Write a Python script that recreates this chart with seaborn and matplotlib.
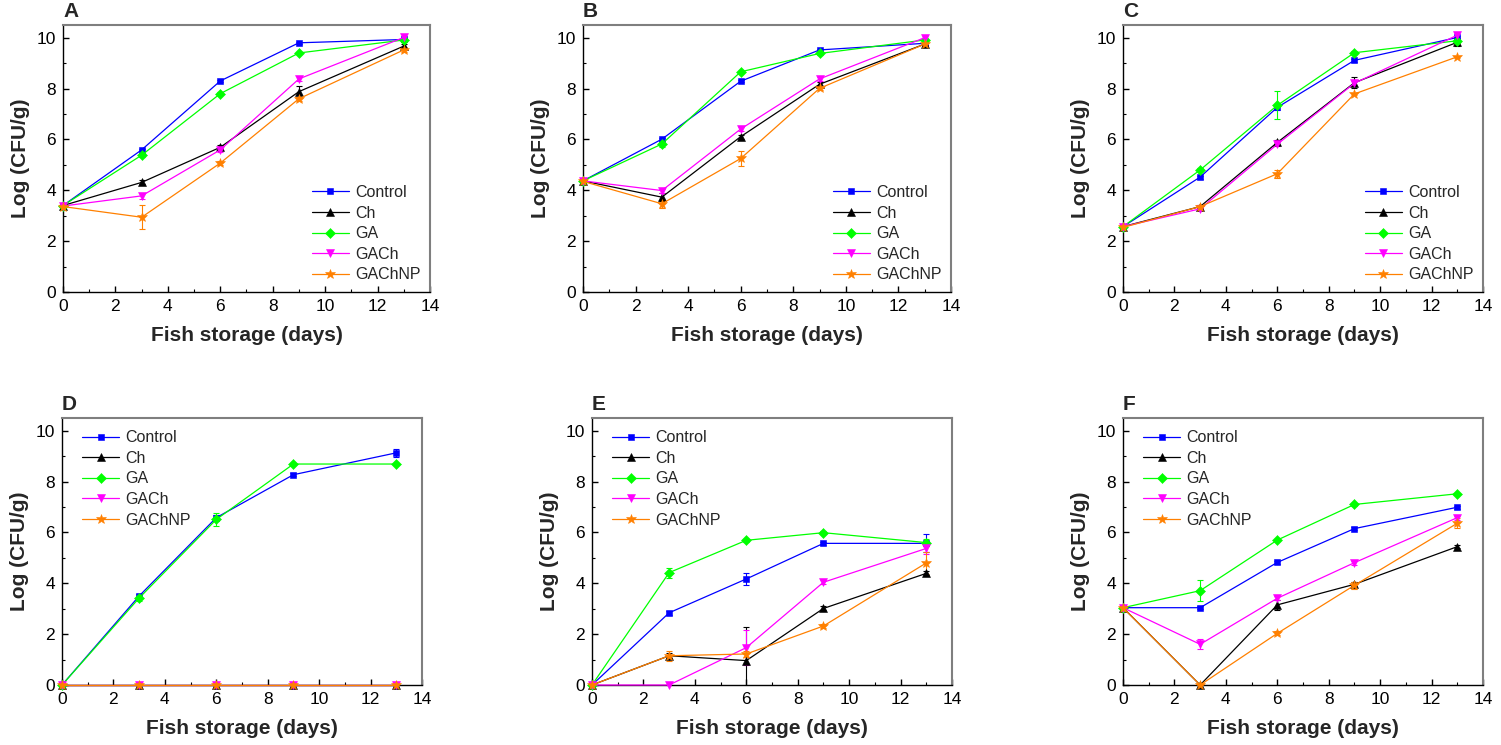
import numpy as np
import pandas as pd
import matplotlib
matplotlib.use("Agg")
import matplotlib.pyplot as plt
import seaborn as sns
from matplotlib.ticker import MultipleLocator

# ---------------- data ----------------
days = [0, 3, 6, 9, 13]
groups = ["Control", "Ch", "GA", "GACh", "GAChNP"]
panel_names = ["A", "B", "C", "D", "E", "F"]

A_mean = {"Control": [3.40, 5.59, 8.30, 9.80, 9.93],
          "Ch":      [3.40, 4.31, 5.69, 7.88, 9.67],
          "GA":      [3.40, 5.38, 7.80, 9.40, 9.91],
          "GACh":    [3.38, 3.78, 5.59, 8.38, 10.01],
          "GAChNP":  [3.36, 2.94, 5.07, 7.60, 9.52]}
A_err = {"Control": [0.05, 0.05, 0.05, 0.05, 0.05],
         "Ch":      [0.05, 0.08, 0.10, 0.22, 0.10],
         "GA":      [0.05, 0.08, 0.05, 0.05, 0.08],
         "GACh":    [0.05, 0.12, 0.08, 0.10, 0.05],
         "GAChNP":  [0.05, 0.47, 0.08, 0.08, 0.10]}

B_mean = {"Control": [4.37, 6.01, 8.29, 9.52, 9.78],
          "Ch":      [4.37, 3.73, 6.11, 8.17, 9.75],
          "GA":      [4.37, 5.82, 8.66, 9.38, 9.91],
          "GACh":    [4.37, 3.99, 6.41, 8.38, 10.00],
          "GAChNP":  [4.35, 3.47, 5.25, 8.01, 9.75]}
B_err = {"Control": [0.05, 0.06, 0.05, 0.05, 0.05],
         "Ch":      [0.05, 0.15, 0.08, 0.08, 0.05],
         "GA":      [0.05, 0.10, 0.05, 0.05, 0.05],
         "GACh":    [0.05, 0.08, 0.08, 0.08, 0.05],
         "GAChNP":  [0.05, 0.15, 0.30, 0.08, 0.05]}

C_mean = {"Control": [2.57, 4.52, 7.26, 9.11, 10.01],
          "Ch":      [2.57, 3.36, 5.88, 8.23, 9.82],
          "GA":      [2.57, 4.80, 7.34, 9.41, 9.88],
          "GACh":    [2.57, 3.27, 5.81, 8.21, 10.10],
          "GAChNP":  [2.54, 3.36, 4.65, 7.79, 9.25]}
C_err = {"Control": [0.05, 0.06, 0.10, 0.05, 0.05],
         "Ch":      [0.05, 0.05, 0.10, 0.22, 0.15],
         "GA":      [0.05, 0.06, 0.55, 0.05, 0.08],
         "GACh":    [0.05, 0.06, 0.08, 0.10, 0.08],
         "GAChNP":  [0.05, 0.05, 0.15, 0.05, 0.05]}

D_mean = {"Control": [0.00, 3.50, 6.58, 8.27, 9.13],
          "Ch":      [0.00, 0.00, 0.00, 0.00, 0.00],
          "GA":      [0.00, 3.42, 6.51, 8.69, 8.69],
          "GACh":    [0.00, 0.00, 0.00, 0.00, 0.00],
          "GAChNP":  [0.00, 0.00, 0.00, 0.00, 0.00]}
D_err = {"Control": [0.0, 0.08, 0.10, 0.05, 0.15],
         "Ch":      [0.0, 0.0, 0.0, 0.0, 0.0],
         "GA":      [0.0, 0.12, 0.25, 0.05, 0.05],
         "GACh":    [0.0, 0.0, 0.0, 0.0, 0.0],
         "GAChNP":  [0.0, 0.0, 0.0, 0.0, 0.0]}

E_mean = {"Control": [0.00, 2.84, 4.17, 5.57, 5.57],
          "Ch":      [0.00, 1.15, 0.96, 3.01, 4.39],
          "GA":      [0.00, 4.42, 5.69, 5.99, 5.60],
          "GACh":    [0.00, 0.00, 1.47, 4.04, 5.37],
          "GAChNP":  [0.00, 1.15, 1.22, 2.32, 4.80]}
E_err = {"Control": [0.0, 0.08, 0.25, 0.05, 0.35],
         "Ch":      [0.0, 0.10, 1.33, 0.08, 0.08],
         "GA":      [0.0, 0.20, 0.05, 0.05, 0.15],
         "GACh":    [0.0, 0.0, 0.70, 0.08, 0.20],
         "GAChNP":  [0.0, 0.20, 0.10, 0.08, 0.45]}

F_mean = {"Control": [3.04, 3.04, 4.82, 6.15, 6.99],
          "Ch":      [3.04, 0.00, 3.15, 3.96, 5.44],
          "GA":      [3.04, 3.71, 5.70, 7.10, 7.52],
          "GACh":    [3.04, 1.60, 3.41, 4.81, 6.58],
          "GAChNP":  [3.04, 0.00, 2.03, 3.92, 6.36]}
F_err = {"Control": [0.05, 0.05, 0.05, 0.05, 0.05],
         "Ch":      [0.05, 0.0, 0.20, 0.08, 0.05],
         "GA":      [0.05, 0.42, 0.05, 0.05, 0.05],
         "GACh":    [0.05, 0.20, 0.08, 0.08, 0.08],
         "GAChNP":  [0.05, 0.0, 0.08, 0.15, 0.20]}

means = [A_mean, B_mean, C_mean, D_mean, E_mean, F_mean]
errs = [A_err, B_err, C_err, D_err, E_err, F_err]

# ---------------- style ----------------
colors = {"Control": "#0000FF", "Ch": "#000000", "GA": "#00FF00",
          "GACh": "#FF00FF", "GAChNP": "#FF8000"}
markers = {"Control": "s", "Ch": "^", "GA": "D", "GACh": "v", "GAChNP": "*"}
msizes = {"Control": 5.0, "Ch": 5.5, "GA": 4.6, "GACh": 5.5, "GAChNP": 7.5}

sns.set_theme(style="white")
plt.rcParams["font.family"] = ["Liberation Sans", "DejaVu Sans"]

W, H = 1501, 745
fig = plt.figure(figsize=(W / 100, H / 100), dpi=100)

# axes boxes in pixels: left, right, top, bottom
boxes = [(63, 430, 25, 292), (583, 951, 25, 292), (1123, 1483, 25, 292),
         (62, 422, 418, 685), (592, 952, 418, 685), (1123, 1483, 418, 685)]
legend_locs = ["lower right"] * 3 + ["upper left"] * 3

for i, (l, r, t, b) in enumerate(boxes):
    ax = fig.add_axes([l / W, (H - b) / H, (r - l) / W, (b - t) / H])
    rows = []
    for g in groups:
        for d, v in zip(days, means[i][g]):
            rows.append({"day": d, "value": v, "group": g})
    df = pd.DataFrame(rows)
    sns.lineplot(data=df, x="day", y="value", hue="group", style="group",
                 hue_order=groups, style_order=groups, palette=colors,
                 markers=markers, dashes=False, linewidth=0.9,
                 errorbar=None, legend=False, ax=ax)
    series_lines = ax.lines[:len(groups)]
    for line, g in zip(series_lines, groups):
        line.set_label(g)
        line.set_markersize(msizes[g])
        line.set_markeredgecolor(colors[g])
        line.set_markeredgewidth(0.4)
        line.set_clip_on(False)
        line.set_zorder(3)
    for g in groups:
        e = np.array(errs[i][g])
        m = np.array(means[i][g])
        x = np.array(days)
        mask = e > 0
        if mask.any():
            ax.errorbar(x[mask], m[mask], yerr=e[mask], fmt="none",
                        ecolor=colors[g], elinewidth=0.8, capsize=2.5,
                        capthick=0.8, zorder=2.5)

    ax.set_xlim(0, 14)
    ax.set_ylim(0, 10.5)
    ax.xaxis.set_major_locator(MultipleLocator(2))
    ax.xaxis.set_minor_locator(MultipleLocator(1))
    ax.yaxis.set_major_locator(MultipleLocator(2))
    ax.yaxis.set_minor_locator(MultipleLocator(1))
    ax.tick_params(which="both", direction="in", bottom=True, left=True,
                   top=False, right=False, colors="black")
    ax.tick_params(which="major", length=4, width=1, labelsize=12.5, pad=5)
    ax.tick_params(which="minor", length=2.5, width=0.8)
    for side in ["left", "bottom"]:
        ax.spines[side].set_color("black")
        ax.spines[side].set_linewidth(1.0)
    for side in ["top", "right"]:
        ax.spines[side].set_color("#7f7f7f")
        ax.spines[side].set_linewidth(1.5)
    ax.set_xlabel("Fish storage (days)", fontsize=15, fontweight="bold",
                  labelpad=9)
    ax.set_ylabel("Log (CFU/g)", fontsize=15, fontweight="bold", labelpad=5)
    ax.text(0.0, 1.015, panel_names[i], transform=ax.transAxes, ha="left",
            va="bottom", fontsize=15, fontweight="bold")
    if legend_locs[i] == "lower right":
        ax.legend(handles=series_lines, labels=groups, loc="lower right",
                  bbox_to_anchor=(1.0, 0.0), frameon=False,
                  fontsize=11.5, handlelength=2.3, handletextpad=0.4,
                  labelspacing=0.35, borderaxespad=0.2)
    else:
        ax.legend(handles=series_lines, labels=groups, loc="upper left",
                  bbox_to_anchor=(0.03, 0.99), frameon=False,
                  fontsize=11.5, handlelength=2.3, handletextpad=0.4,
                  labelspacing=0.35, borderaxespad=0.2)

fig.savefig("out.png", dpi=100)
